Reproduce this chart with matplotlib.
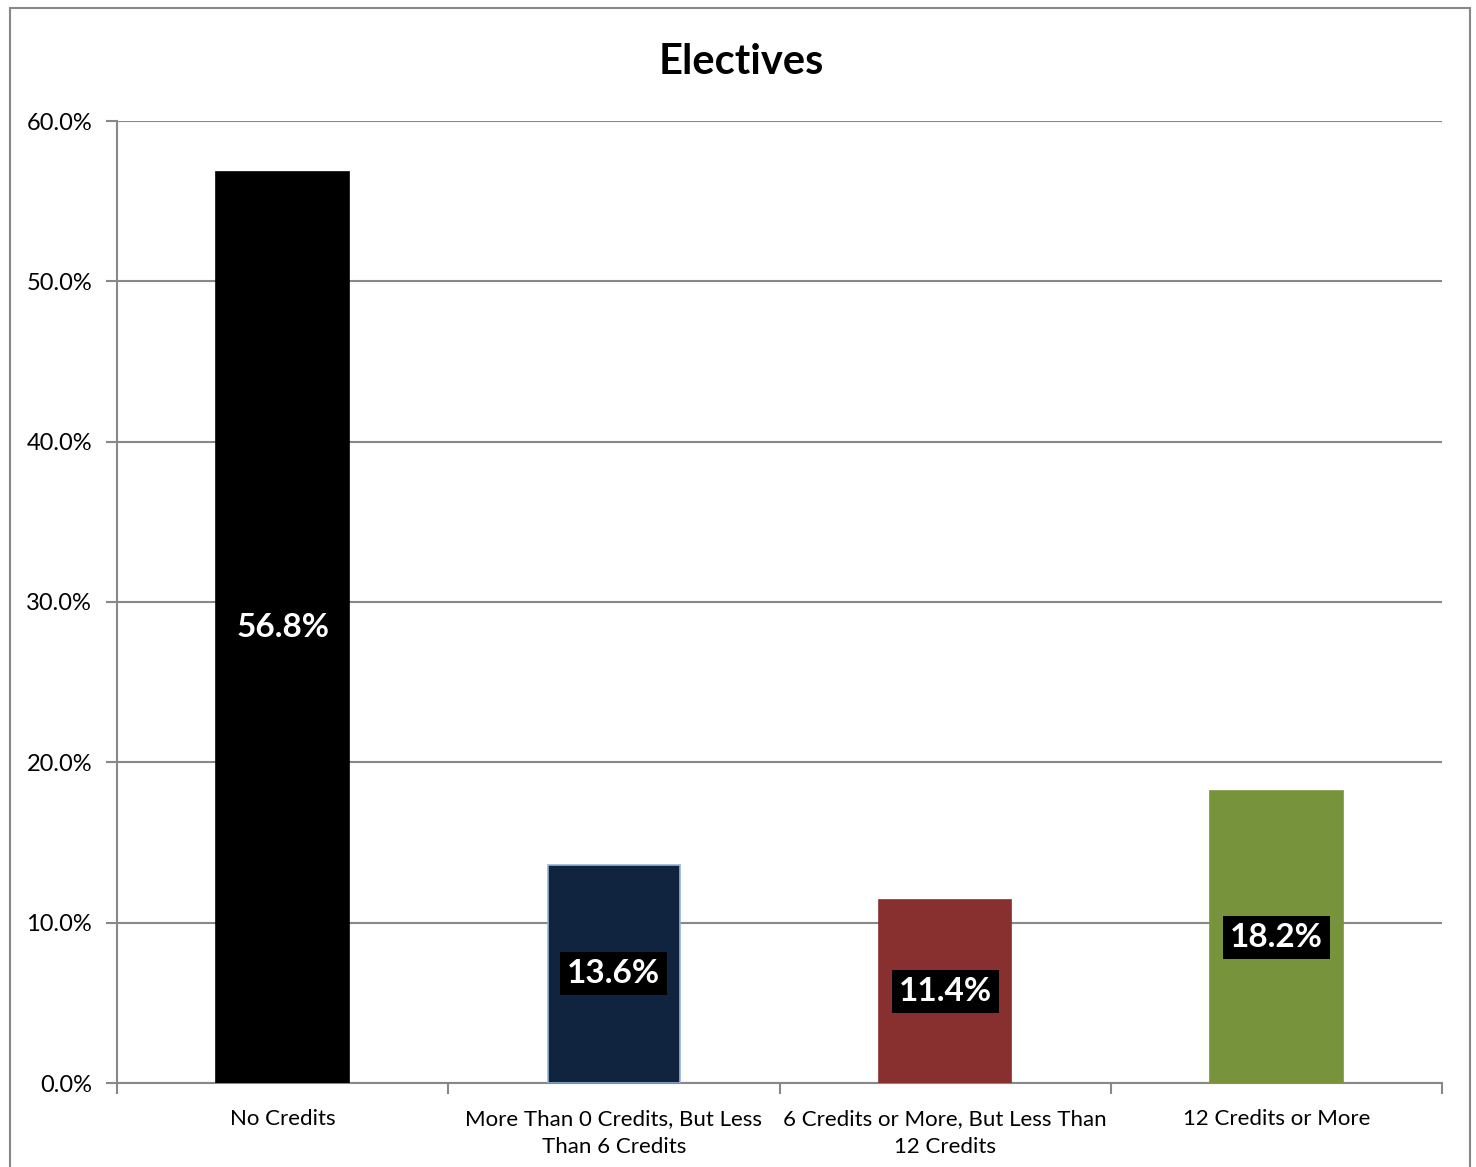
import numpy as np
import matplotlib
matplotlib.use('Agg')
import matplotlib.pyplot as plt
from matplotlib.patches import Rectangle
from matplotlib.ticker import FuncFormatter

categories = ['No Credits', 'More Than 0 Credits, But Less\nThan 6 Credits',
              '6 Credits or More, But Less Than\n12 Credits', '12 Credits or More']
values = [56.8, 13.6, 11.4, 18.2]
colors = ['#000000', '#10243F', '#883030', '#77933C']
edges = ['#000000', '#95B3D7', '#883030', '#77933C']

plt.rcParams['font.family'] = ['Lato', 'DejaVu Sans']

fig = plt.figure(figsize=(14.76, 11.67), dpi=100)
# outer chart border
fig.patches.append(Rectangle((10 / 1476, -0.01), 1460 / 1476, 1 - 8 / 1167 + 0.01,
                             transform=fig.transFigure, fill=False,
                             edgecolor='#888888', linewidth=1.5))

ax = fig.add_axes([117 / 1476, 1 - 1083 / 1167, (1442 - 117) / 1476, (1083 - 121) / 1167])

x = np.arange(len(categories))
ax.bar(x, values, width=0.4, color=colors, edgecolor=edges, linewidth=1.2, zorder=3)

for xi, v in zip(x, values):
    ax.text(xi, v / 2, f'{v:.1f}%', ha='center', va='center', color='white',
            fontsize=24, fontweight='bold', zorder=4,
            bbox=dict(facecolor='black', edgecolor='none', pad=5))

ax.set_xlim(-0.5, len(categories) - 0.5)
ax.set_ylim(0, 60)
ax.set_yticks(np.arange(0, 61, 10))
ax.yaxis.set_major_formatter(FuncFormatter(lambda v, p: f'{v:.1f}%'))
ax.grid(axis='y', color='#888888', linewidth=1.5, zorder=0)

ax.set_xticks(x)
ax.set_xticklabels(categories, fontsize=16, linespacing=1.45)
ax.set_xticks(np.arange(-0.5, len(categories), 1), minor=True)
ax.tick_params(axis='x', which='major', length=0, pad=19)
ax.tick_params(axis='x', which='minor', length=8, width=1.5, color='#888888')
ax.tick_params(axis='y', length=8, width=1.5, color='#888888', labelsize=17, pad=10)

for side in ['top', 'right']:
    ax.spines[side].set_visible(False)
for side in ['left', 'bottom']:
    ax.spines[side].set_color('#888888')
    ax.spines[side].set_linewidth(1.5)

fig.text(741 / 1476, 1 - 62 / 1167, 'Electives', ha='center', va='center',
         fontsize=30, fontweight='bold')

fig.savefig('out.png', dpi=100)
